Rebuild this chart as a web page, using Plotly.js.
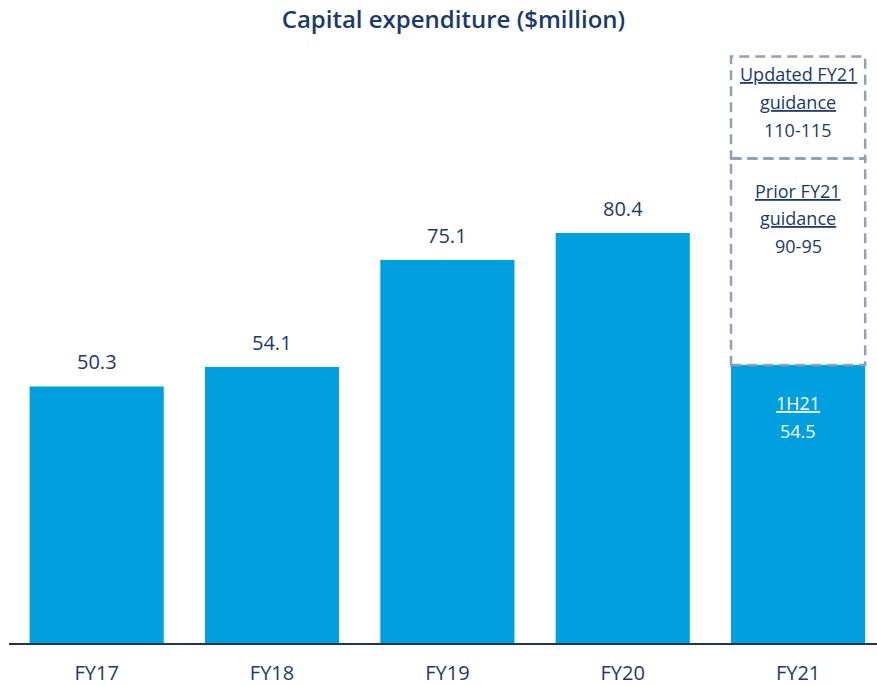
<!DOCTYPE html>
<html>
<head>
<meta charset="utf-8">
<script src="https://cdn.plot.ly/plotly-3.0.1.min.js"></script>
<style>html,body{margin:0;padding:0;background:#fff;}</style>
</head>
<body>
<div id="chart" style="width:877px;height:686px;"></div>
<script>
const categories = ['FY17', 'FY18', 'FY19', 'FY20', 'FY21'];
const capex = [50.3, 54.1, 75.1, 80.4, 54.5];
const valueLabels = ['50.3', '54.1', '75.1', '80.4', ''];
const priorGuidance = [90, 95];
const updatedGuidance = [110, 115];
const firstHalfLabel = '1H21';

const NAVY = '#1b3a6b';
const BLUE = '#009fdf';
const DASH = '#8da0b6';
const FONT = '"Open Sans", "Noto Sans", sans-serif';
const bargap = 0.235;
const half = (1 - bargap) / 2;
const fy21 = categories.length - 1;

const trace = {
  type: 'bar',
  x: categories.map((c, i) => i),
  y: capex,
  marker: {color: BLUE, line: {width: 0}},
  hoverinfo: 'skip'
};

const annotations = [];
valueLabels.forEach((t, i) => {
  if (!t) return;
  annotations.push({
    x: i, y: capex[i], xref: 'x', yref: 'y', text: t, showarrow: false,
    yanchor: 'bottom', yshift: 9, font: {family: FONT, size: 20, color: NAVY}
  });
});

function boxLines(yVal, lines, shifts, color) {
  lines.forEach((t, k) => {
    annotations.push({
      x: fy21, y: yVal, xref: 'x', yref: 'y', text: t, showarrow: false,
      yanchor: 'middle', yshift: -shifts[k], align: 'center',
      font: {family: FONT, size: 18, color: color}
    });
  });
}
boxLines(updatedGuidance[1],
  ['<u>Updated FY21</u>', '<u>guidance</u>', updatedGuidance[0] + '-' + updatedGuidance[1]],
  [17, 45, 73], NAVY);
boxLines(priorGuidance[1],
  ['<u>Prior FY21</u>', '<u>guidance</u>', priorGuidance[0] + '-' + priorGuidance[1]],
  [32, 59, 87], NAVY);
boxLines(capex[fy21],
  ['<u>' + firstHalfLabel + '</u>', String(capex[fy21])],
  [38, 66], '#ffffff');

const shapes = [
  {type: 'rect', xref: 'x', yref: 'y', x0: fy21 - half, x1: fy21 + half,
   y0: capex[fy21], y1: priorGuidance[1], layer: 'above',
   line: {color: DASH, width: 2.5, dash: '10px,6px'}, fillcolor: 'rgba(0,0,0,0)'},
  {type: 'rect', xref: 'x', yref: 'y', x0: fy21 - half, x1: fy21 + half,
   y0: priorGuidance[1], y1: updatedGuidance[1], layer: 'above',
   line: {color: DASH, width: 2.5, dash: '10px,6px'}, fillcolor: 'rgba(0,0,0,0)'}
];

const layout = {
  width: 877, height: 686,
  margin: {l: 9, r: 0, t: 40, b: 43},
  paper_bgcolor: '#ffffff', plot_bgcolor: '#ffffff',
  showlegend: false,
  bargap: bargap,
  title: {
    text: 'Capital expenditure ($million)',
    x: 0.517, xref: 'container', xanchor: 'center',
    y: 0.972, yref: 'container', yanchor: 'middle',
    font: {family: FONT, size: 24, color: NAVY, weight: 600}
  },
  xaxis: {
    type: 'linear', range: [-0.5, 4.45],
    tickmode: 'array', tickvals: categories.map((c, i) => i), ticktext: categories,
    showline: true, linecolor: '#1b3461', linewidth: 2,
    showgrid: false, zeroline: false, ticks: '',
    ticklabelstandoff: 11,
    tickfont: {family: FONT, size: 20, color: NAVY}
  },
  yaxis: {
    range: [0, 118.24], visible: false, showgrid: false, zeroline: false, fixedrange: true
  },
  annotations: annotations,
  shapes: shapes,
  font: {family: FONT, color: NAVY}
};

Plotly.newPlot('chart', [trace], layout, {displayModeBar: false, staticPlot: true});
</script>
</body>
</html>
